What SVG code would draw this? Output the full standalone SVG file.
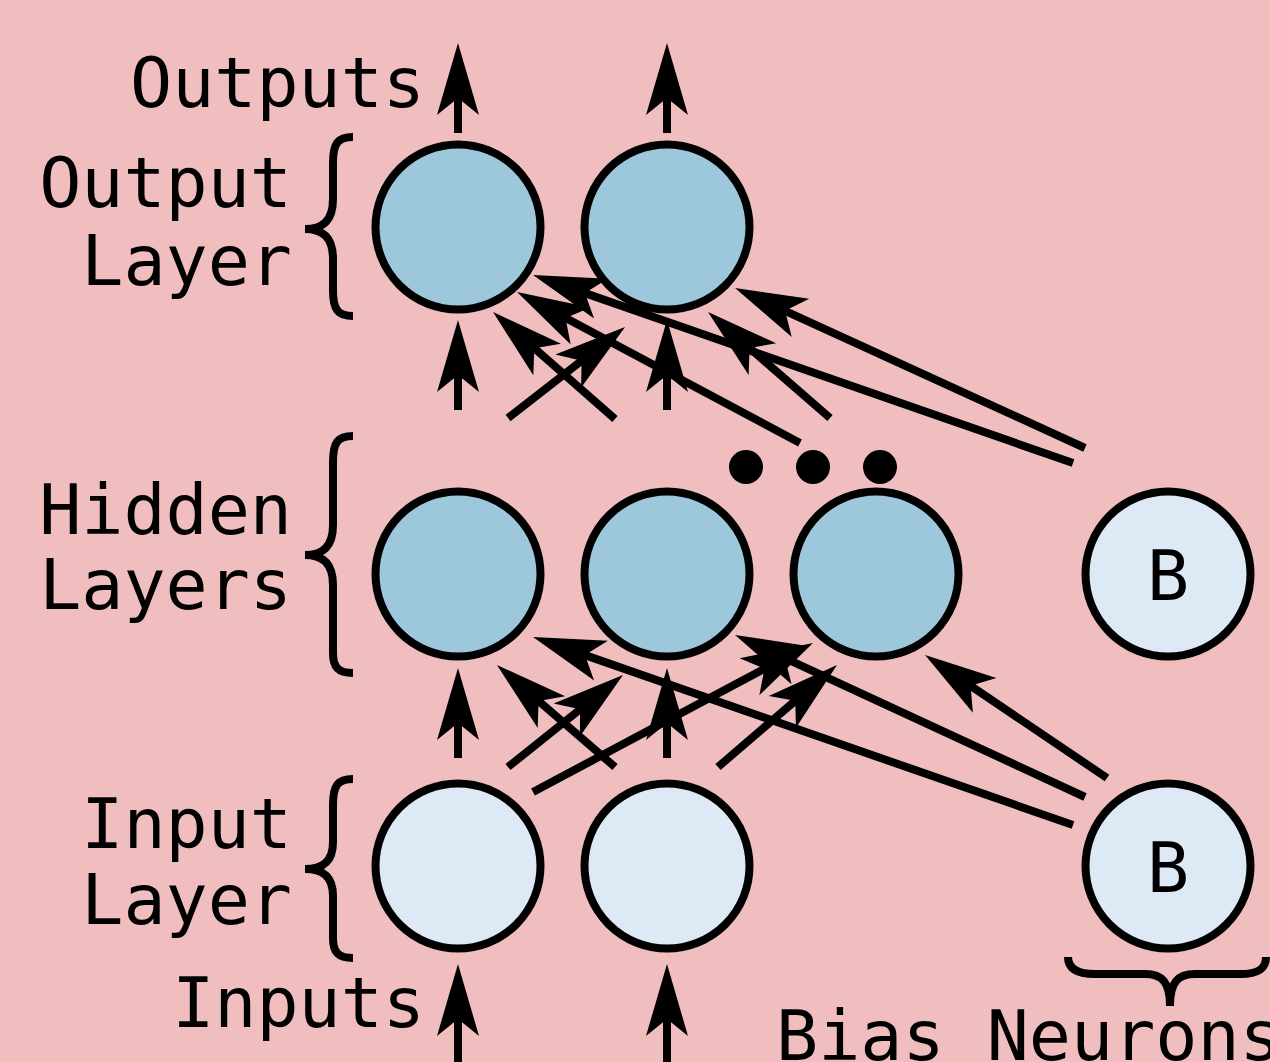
<svg xmlns="http://www.w3.org/2000/svg" width="1270" height="1062" viewBox="0 0 1270 1062">
<defs>
<marker id="ah" markerUnits="userSpaceOnUse" markerWidth="80" markerHeight="50" viewBox="-20 -25 80 50" refX="0" refY="0" orient="auto">
<path d="M52,0 L-20,-21 L-3,0 L-20,21 Z" fill="#000"/>
</marker>
</defs>
<style>
.bg{fill:#f0bebe}
.n{stroke:#000;stroke-width:8}
.dk{fill:#9dc8dc}
.lt{fill:#dde9f5}
.c line{stroke:#000;stroke-width:8;marker-end:url(#ah)}
.p line{stroke:#000;stroke-width:8}
.br{fill:none;stroke:#000;stroke-width:8}
text{font-family:"DejaVu Sans Mono","Liberation Mono",monospace;font-size:70px;fill:#000}
.r{text-anchor:end}
.m{text-anchor:middle}
</style>
<rect class="bg" x="0" y="0" width="1270" height="1062"/>
<g id="labels">
<text class="r" x="425" y="107">Outputs</text>
<text class="r" x="292" y="207">Output</text>
<text class="r" x="292" y="285">Layer</text>
<text class="r" x="292" y="534">Hidden</text>
<text class="r" x="292" y="609">Layers</text>
<text class="r" x="292" y="848">Input</text>
<text class="r" x="292" y="924">Layer</text>
<text class="r" x="425" y="1027">Inputs</text>
<text x="776" y="1060">Bias Neurons</text>
</g>
<g id="braces">
<path class="br" d="M353,137 C338,137 333,143 333,163 L333,199 C333,221 322,229 305,229 C322,229 333,237 333,259 L333,290 C333,310 338,316 353,316"/>
<path class="br" d="M353,436 C338,436 333,442 333,462 L333,525 C333,547 322,555 305,555 C322,555 333,563 333,585 L333,653 C333,667 338,673 353,673"/>
<path class="br" d="M353,779 C338,779 333,785 333,805 L333,842 C333,862 322,869 305,869 C322,869 333,876 333,896 L333,938 C333,952 338,958 353,958"/>
<path class="br" d="M1068,957 C1068,969 1078,974 1095,974 L1145,974 C1162,974 1170,982 1170,1006 C1170,982 1178,974 1195,974 L1240,974 C1258,974 1266,969 1266,957"/>
</g>
<g id="connectors">
<g class="c">
<line x1="458" y1="133" x2="458" y2="95"/>
<line x1="667" y1="133" x2="667" y2="95"/>
<line x1="458" y1="1070" x2="458" y2="1016"/>
<line x1="667" y1="1070" x2="667" y2="1016"/>
<line x1="458" y1="410" x2="458" y2="372"/>
<line x1="667" y1="410" x2="667" y2="372"/>
<line x1="508" y1="418" x2="584" y2="358.9"/>
<line x1="615" y1="419" x2="532.1" y2="346.3"/>
<line x1="800" y1="443" x2="562.9" y2="316.5"/>
<line x1="830" y1="418" x2="747.3" y2="346.1"/>
<line x1="1073" y1="463" x2="582.1" y2="292.1"/>
<line x1="1085" y1="448" x2="782.3" y2="309.6"/>
<line x1="458" y1="758" x2="458" y2="720"/>
<line x1="667" y1="758" x2="667" y2="720"/>
<line x1="508" y1="767" x2="582.4" y2="707.5"/>
<line x1="615" y1="767" x2="536.3" y2="699"/>
<line x1="533" y1="792" x2="767.1" y2="667.4"/>
<line x1="718" y1="767" x2="797.5" y2="698.9"/>
<line x1="1073" y1="825" x2="582.1" y2="654.1"/>
<line x1="1085" y1="797" x2="782.2" y2="656.8"/>
<line x1="1107" y1="778" x2="968.1" y2="684.1"/>
</g>
</g>
<g id="dots">
<circle cx="746" cy="467" r="17"/>
<circle cx="813" cy="467" r="17"/>
<circle cx="880" cy="467" r="17"/>
</g>
<g id="out1"><circle class="n dk" cx="458" cy="227" r="82.5"/></g>
<g id="out2"><circle class="n dk" cx="667" cy="227" r="82.5"/></g>
<g id="hid1"><circle class="n dk" cx="458" cy="574" r="82.5"/></g>
<g id="hid2"><circle class="n dk" cx="667" cy="574" r="82.5"/></g>
<g id="hid3"><circle class="n dk" cx="876" cy="574" r="82.5"/></g>
<g id="biasH"><circle class="n lt" cx="1168" cy="574" r="82.5"/><text class="m" x="1168" y="600">B</text></g>
<g id="in1"><circle class="n lt" cx="458" cy="866" r="82.5"/></g>
<g id="in2"><circle class="n lt" cx="667" cy="866" r="82.5"/></g>
<g id="biasI"><circle class="n lt" cx="1168" cy="866" r="82.5"/><text class="m" x="1168" y="892">B</text></g>
</svg>
